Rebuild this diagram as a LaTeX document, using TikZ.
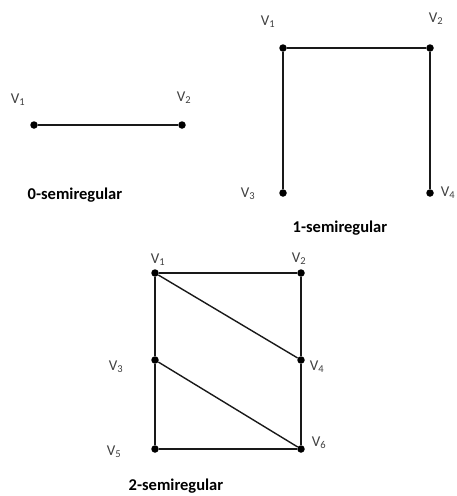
\documentclass[tikz,border=0pt]{standalone}
\usepackage{fontspec}
\setmainfont{Carlito}
\begin{document}
\begin{tikzpicture}[x=1pt,y=-1pt,
  vtx/.style={circle,fill=black,inner sep=0pt,minimum size=7.5pt},
  lbl/.style={text=black!75,font=\fontsize{15}{17}\selectfont,inner sep=0pt},
  captxt/.style={font=\fontsize{16.5}{19}\selectfont\bfseries,inner sep=0pt},
  edgeline/.style={line width=1.4pt,draw=black!90}]
\useasboundingbox (0,0) rectangle (456,496);
% graph 0
\node[vtx] (a1) at (34,125) {};
\node[vtx] (a2) at (182,125) {};
\draw[edgeline] (a1) -- (a2);
\node[lbl] (la1) at (18,100) {V\textsubscript{1}};
\node[lbl] (la2) at (184,98) {V\textsubscript{2}};
\node[captxt] (ca) at (75,195) {0-semiregular};
% graph 1
\node[vtx] (b1) at (283,48) {};
\node[vtx] (b2) at (430,48) {};
\node[vtx] (b3) at (283,193) {};
\node[vtx] (b4) at (430,193) {};
\draw[edgeline] (b3) -- (b1) -- (b2) -- (b4);
\node[lbl] (lb1) at (268,22) {V\textsubscript{1}};
\node[lbl] (lb2) at (436,19) {V\textsubscript{2}};
\node[lbl] (lb3) at (248,194) {V\textsubscript{3}};
\node[lbl] (lb4) at (448,193) {V\textsubscript{4}};
\node[captxt] (cb) at (340,228) {1-semiregular};
% graph 2
\node[vtx] (c1) at (155,273) {};
\node[vtx] (c2) at (301,273) {};
\node[vtx] (c3) at (155,360) {};
\node[vtx] (c4) at (301,360) {};
\node[vtx] (c5) at (155,449) {};
\node[vtx] (c6) at (301,449) {};
\draw[edgeline] (c1) -- (c2) -- (c4) -- (c6) -- (c5) -- (c3) -- (c1);
\draw[edgeline] (c1) -- (c4);
\draw[edgeline] (c3) -- (c6);
\node[lbl] (lc1) at (158,260) {V\textsubscript{1}};
\node[lbl] (lc2) at (299,259) {V\textsubscript{2}};
\node[lbl] (lc3) at (116,367) {V\textsubscript{3}};
\node[lbl] (lc4) at (317,367) {V\textsubscript{4}};
\node[lbl] (lc5) at (114,452) {V\textsubscript{5}};
\node[lbl] (lc6) at (319,443) {V\textsubscript{6}};
\node[captxt] (cc) at (176,486) {2-semiregular};
\end{tikzpicture}
\end{document}
